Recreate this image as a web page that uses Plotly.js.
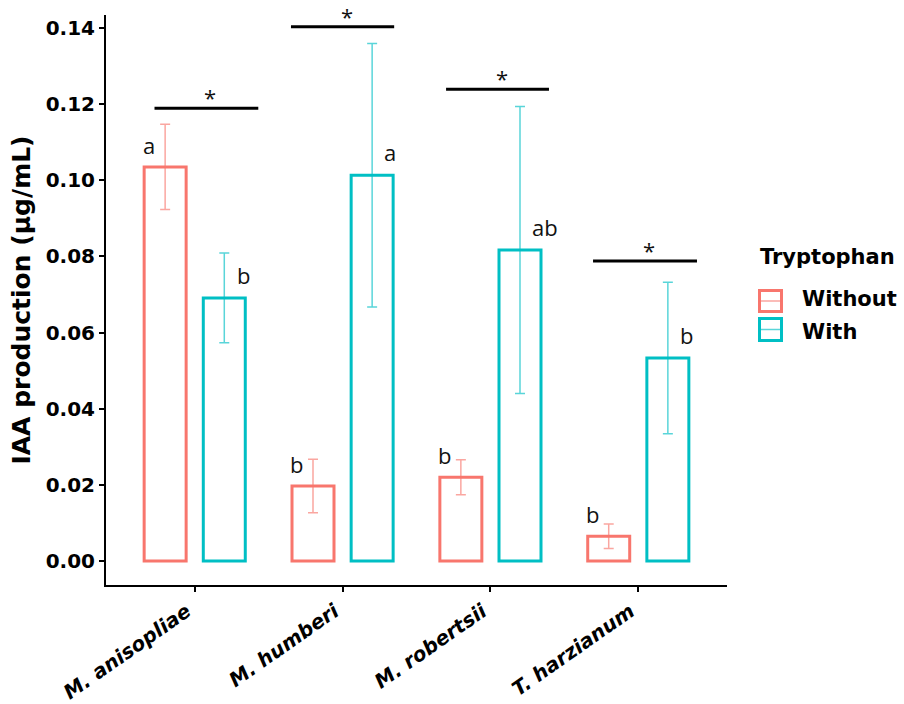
<!DOCTYPE html>
<html>
<head>
<meta charset="utf-8">
<script src="https://cdn.plot.ly/plotly-3.0.1.min.js"></script>
<style>html,body{margin:0;padding:0;background:#fff;}#chart{width:904px;height:704px;}</style>
</head>
<body>
<div id="chart"></div>
<script>
// ---- data ----
const categories = ['M. anisopliae', 'M. humberi', 'M. robertsii', 'T. harzianum'];
const seriesNames = ['Without', 'With'];
const withoutMean = [0.1035, 0.0197, 0.0220, 0.0065];
const withoutSE   = [0.0112, 0.0070, 0.0046, 0.0032];
const withMean    = [0.0691, 0.1013, 0.0817, 0.0533];
const withSE      = [0.0118, 0.0346, 0.0377, 0.0199];
const withoutLetters = ['a', 'b', 'b', 'b'];
const withLetters    = ['b', 'a', 'ab', 'b'];
const sigStart = [-0.272, 0.651, 1.700, 2.694];
const sigEnd   = [0.430, 1.349, 2.396, 3.397];
const sigLevel = [0.1189, 0.1403, 0.1239, 0.0788];
const sigMark  = ['*', '*', '*', '*'];
const yTicks = [0, 0.02, 0.04, 0.06, 0.08, 0.10, 0.12, 0.14];
const legendTitle = 'Tryptophan';
const yTitle = 'IAA production (µg/mL)';

// ---- styles ----
const RED = '#F8766D', TEAL = '#00BFC4';
const RED_E = 'rgba(248,118,109,0.65)', TEAL_E = 'rgba(0,191,196,0.65)';
const W = 904, H = 704;
const M = {l: 106, r: 177, t: 15, b: 119};
const xIdx = categories.map((_, i) => i);
const px2x = px => (px - M.l) / (W - M.l - M.r);
const py2y = py => (H - M.b - py) / (H - M.t - M.b);

const traces = [
  {type: 'bar', name: seriesNames[0], x: xIdx, y: withoutMean,
   marker: {color: 'rgba(255,255,255,0)', line: {color: RED, width: 3}},
   error_y: {type: 'data', array: withoutSE, visible: true, color: RED_E, thickness: 1.5, width: 5},
   showlegend: false, hoverinfo: 'skip'},
  {type: 'bar', name: seriesNames[1], x: xIdx, y: withMean,
   marker: {color: 'rgba(255,255,255,0)', line: {color: TEAL, width: 3}},
   error_y: {type: 'data', array: withSE, visible: true, color: TEAL_E, thickness: 1.5, width: 5},
   showlegend: false, hoverinfo: 'skip'}
];
sigLevel.forEach((lv, i) => {
  traces.push({type: 'scatter', mode: 'lines', x: [sigStart[i], sigEnd[i]], y: [lv, lv],
    line: {color: '#000', width: 3}, showlegend: false, hoverinfo: 'skip', cliponaxis: false});
});

const annotations = [];
const letterFont = {family: 'Open Sans, DejaVu Sans, sans-serif', size: 22, color: '#111'};
withoutMean.forEach((m, i) => annotations.push({x: i - 0.31, y: m, xref: 'x', yref: 'y',
  text: withoutLetters[i], showarrow: false, xanchor: 'center', yanchor: 'middle', yshift: 22, font: letterFont}));
withMean.forEach((m, i) => annotations.push({x: i + 0.27, y: m, xref: 'x', yref: 'y',
  text: withLetters[i], showarrow: false, xanchor: 'left', yanchor: 'middle', yshift: 23, font: letterFont}));
sigLevel.forEach((lv, i) => annotations.push({x: (sigStart[i] + sigEnd[i]) / 2, y: lv, xref: 'x', yref: 'y',
  text: sigMark[i], showarrow: false, xanchor: 'center', yanchor: 'middle', xshift: 4, yshift: 11, font: letterFont}));

// custom legend
const legFont = {family: 'DejaVu Sans, sans-serif', size: 21, color: '#000', weight: 'bold'};
annotations.push({x: px2x(758), y: py2y(257), xref: 'paper', yref: 'paper', text: legendTitle,
  showarrow: false, xanchor: 'left', yanchor: 'middle', font: legFont});
annotations.push({x: px2x(800), y: py2y(299), xref: 'paper', yref: 'paper', text: seriesNames[0],
  showarrow: false, xanchor: 'left', yanchor: 'middle', font: legFont});
annotations.push({x: px2x(800), y: py2y(332), xref: 'paper', yref: 'paper', text: seriesNames[1],
  showarrow: false, xanchor: 'left', yanchor: 'middle', font: legFont});

const shapes = [];
[[RED, RED_E, 290.5, 311.5], [TEAL, TEAL_E, 318.5, 340.5]].forEach(([c, ce, y0, y1]) => {
  shapes.push({type: 'rect', xref: 'paper', yref: 'paper', x0: px2x(759.5), x1: px2x(781.5),
    y0: py2y(y1), y1: py2y(y0), line: {color: c, width: 3}, fillcolor: 'rgba(0,0,0,0)'});
  shapes.push({type: 'line', xref: 'paper', yref: 'paper', x0: px2x(759.5), x1: px2x(781.5),
    y0: py2y((y0 + y1) / 2), y1: py2y((y0 + y1) / 2), line: {color: ce, width: 1.5}});
});

const layout = {
  width: W, height: H, margin: M,
  paper_bgcolor: '#fff', plot_bgcolor: '#fff',
  barmode: 'group', bargap: 0.2, bargroupgap: 0.29,
  showlegend: false,
  xaxis: {range: [-0.6, 3.6], tickvals: xIdx, ticktext: categories, tickangle: -35, ticklabelshift: -8,
    showline: true, linecolor: '#000', linewidth: 2, ticks: 'outside', ticklen: 5, tickwidth: 2, tickcolor: '#000',
    showgrid: false, zeroline: false, automargin: false,
    tickfont: {family: 'DejaVu Sans, sans-serif', size: 20, color: '#000', weight: 'bold', style: 'italic'}},
  yaxis: {range: [-0.0063, 0.1434], tickvals: yTicks, tickformat: '.2f',
    showline: true, linecolor: '#000', linewidth: 2, ticks: 'outside', ticklen: 5, tickwidth: 2, tickcolor: '#000',
    showgrid: false, zeroline: false, automargin: false,
    tickfont: {family: 'DejaVu Sans, sans-serif', size: 20, color: '#000', weight: 'bold'},
    title: {text: yTitle, standoff: 8, font: {family: 'DejaVu Sans, sans-serif', size: 25, color: '#000', weight: 'bold'}}},
  annotations: annotations,
  shapes: shapes
};

Plotly.newPlot('chart', traces, layout, {displayModeBar: false, staticPlot: true});
</script>
</body>
</html>
